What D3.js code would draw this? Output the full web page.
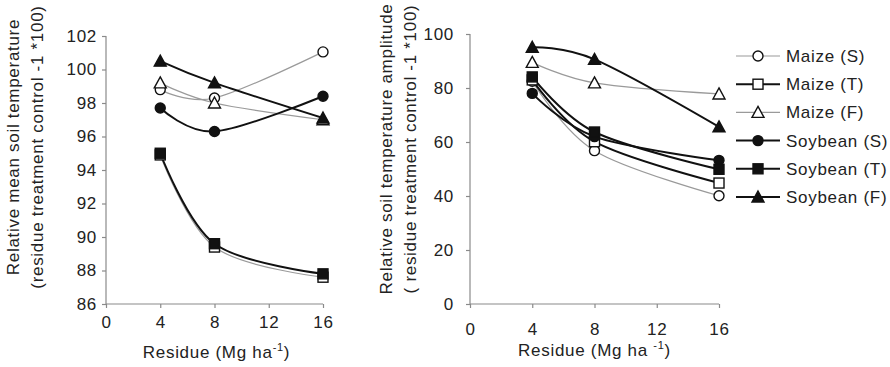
<!DOCTYPE html>
<html><head><meta charset="utf-8">
<script src="https://cdn.jsdelivr.net/npm/d3@7"></script>
<style>body{margin:0;background:#fff}svg{display:block}text{font-family:"Liberation Sans",Arial,sans-serif;fill:#222;letter-spacing:0.7px}</style>
</head><body><svg id="c" width="890" height="367"></svg>
<script>
const residue = [4, 8, 16];
const seriesNames = ["Maize (S)", "Maize (T)", "Maize (F)", "Soybean (S)", "Soybean (T)", "Soybean (F)"];
const seriesMarkers = ["circle", "square", "triangle", "circle", "square", "triangle"];
const seriesFilled = [false, false, false, true, true, true];
const seriesHeavy = [false, true, false, true, true, true];
// Relative mean soil temperature
const meanMaizeS = [98.8, 98.3, 101.05];
const meanMaizeT = [94.9, 89.4, 87.6];
const meanMaizeF = [99.2, 98.0, 97.0];
const meanSoyS = [97.7, 96.3, 98.4];
const meanSoyT = [95.0, 89.6, 87.8];
const meanSoyF = [100.5, 99.2, 97.1];
// Relative soil temperature amplitude
const ampMaizeS = [82.5, 56.8, 40.1];
const ampMaizeT = [83, 60.1, 44.8];
const ampMaizeF = [89.5, 81.9, 77.8];
const ampSoyS = [78.0, 62, 53.2];
const ampSoyT = [84.1, 63.7, 49.9];
const ampSoyF = [95.1, 90.6, 65.6];
const xTicks = [0, 4, 8, 12, 16];
const leftYTicks = [86, 88, 90, 92, 94, 96, 98, 100, 102];
const rightYTicks = [0, 20, 40, 60, 80, 100];

const meanSeries = [meanMaizeS, meanMaizeT, meanMaizeF, meanSoyS, meanSoyT, meanSoyF];
const ampSeries = [ampMaizeS, ampMaizeT, ampMaizeF, ampSoyS, ampSoyT, ampSoyF];

const svg = d3.select("#c");
const gray = "#9a9a9a", dark = "#111", axisCol = "#8a8a8a";
const FS = 17;

function marker(g, type, filled, x, y) {
  const fill = filled ? dark : "#fff";
  const st = {stroke: dark, "stroke-width": 1.4, fill};
  let el;
  if (type === "circle") el = g.append("circle").attr("cx", x).attr("cy", y).attr("r", 5);
  else if (type === "square") el = g.append("rect").attr("x", x - 5).attr("y", y - 5).attr("width", 10).attr("height", 10);
  else el = g.append("path").attr("d", `M${x},${y-6}L${x+6},${y+5}L${x-6},${y+5}Z`);
  for (const k in st) el.attr(k, st[k]);
}

function panel(opt) {
  const x = d3.scaleLinear().domain([0, 16]).range([opt.x0, opt.x1]);
  const y = d3.scaleLinear().domain(opt.yDomain).range([opt.yb, opt.yt]);
  const g = svg.append("g");
  const ya = g.append("g").attr("transform", `translate(${opt.x0},0)`)
    .call(d3.axisLeft(y).tickValues(opt.yTicks).tickSize(4).tickPadding(opt.yPad));
  const xa = g.append("g").attr("transform", `translate(0,${opt.yb})`)
    .call(d3.axisBottom(x).tickValues(xTicks).tickSize(4).tickPadding(opt.xPad));
  [ya, xa].forEach(a => {
    a.selectAll("path,line").attr("stroke", axisCol).attr("stroke-width", 1.2);
    a.selectAll("text").attr("font-size", FS).attr("font-family", "Liberation Sans, Arial").attr("fill", "#222");
  });
  xa.select(".domain").attr("d", `M${opt.x0},0H${opt.x1}`);
  ya.select(".domain").attr("d", `M0,${opt.yb}V${opt.yt}`);
  const line = d3.line().x((d, i) => x(residue[i])).y(d => y(d)).curve(d3.curveCardinal.tension(0));
  const order = [0, 2, 1, 3, 4, 5];
  order.forEach(si => {
    const heavy = opt.heavy[si];
    g.append("path").attr("d", line(opt.data[si])).attr("fill", "none")
      .attr("stroke", heavy ? dark : gray).attr("stroke-width", heavy ? 2 : 1.2);
  });
  order.forEach(si => {
    opt.data[si].forEach((v, i) => marker(g, seriesMarkers[si], seriesFilled[si], x(residue[i]), y(v)));
  });
  // titles
  const t = g.append("text").attr("text-anchor", "middle").attr("font-size", FS)
    .attr("transform", `translate(${(opt.x0 + opt.x1) / 2 + opt.xtOff},${opt.xtY})`);
  t.append("tspan").text(opt.xTitle);
  t.append("tspan").attr("font-size", 11).attr("dy", -7).text(opt.sup);
  t.append("tspan").attr("dy", 7).text(")");
  opt.yTitles.forEach((s, k) => {
    g.append("text").attr("text-anchor", "middle").attr("font-size", FS)
      .attr("transform", `translate(${opt.ytX[k]},${opt.ytY}) rotate(-90)`).text(s);
  });
}

panel({x0: 106, x1: 323, yt: 36, yb: 304, yDomain: [86, 102], yTicks: leftYTicks, data: meanSeries,
  heavy: [false, false, false, true, true, true], yPad: 5, xPad: 8,
  xTitle: "Residue (Mg ha", sup: "-1", xtOff: 2, xtY: 358,
  yTitles: ["Relative mean soil temperature", "(residue treatment control -1 *100)"], ytX: [19, 43], ytY: 147});
panel({x0: 470, x1: 719, yt: 34, yb: 304, yDomain: [0, 100], yTicks: rightYTicks, data: ampSeries,
  heavy: seriesHeavy, yPad: 12, xPad: 15,
  xTitle: "Residue (Mg ha ", sup: "-1", xtOff: 0, xtY: 356,
  yTitles: ["Relative soil temperature amplitude", "( residue treatment control -1 *100)"], ytX: [392, 416], ytY: 149});

// legend
const lg = svg.append("g");
seriesNames.forEach((n, i) => {
  const yy = 56 + i * 28.2;
  lg.append("line").attr("x1", 736).attr("x2", 780).attr("y1", yy).attr("y2", yy)
    .attr("stroke", seriesHeavy[i] ? dark : gray).attr("stroke-width", seriesHeavy[i] ? 2 : 1.2);
  marker(lg, seriesMarkers[i], seriesFilled[i], 758, yy);
  lg.append("text").attr("x", 786).attr("y", yy + 6).attr("font-size", FS).text(n);
});
</script></body></html>
